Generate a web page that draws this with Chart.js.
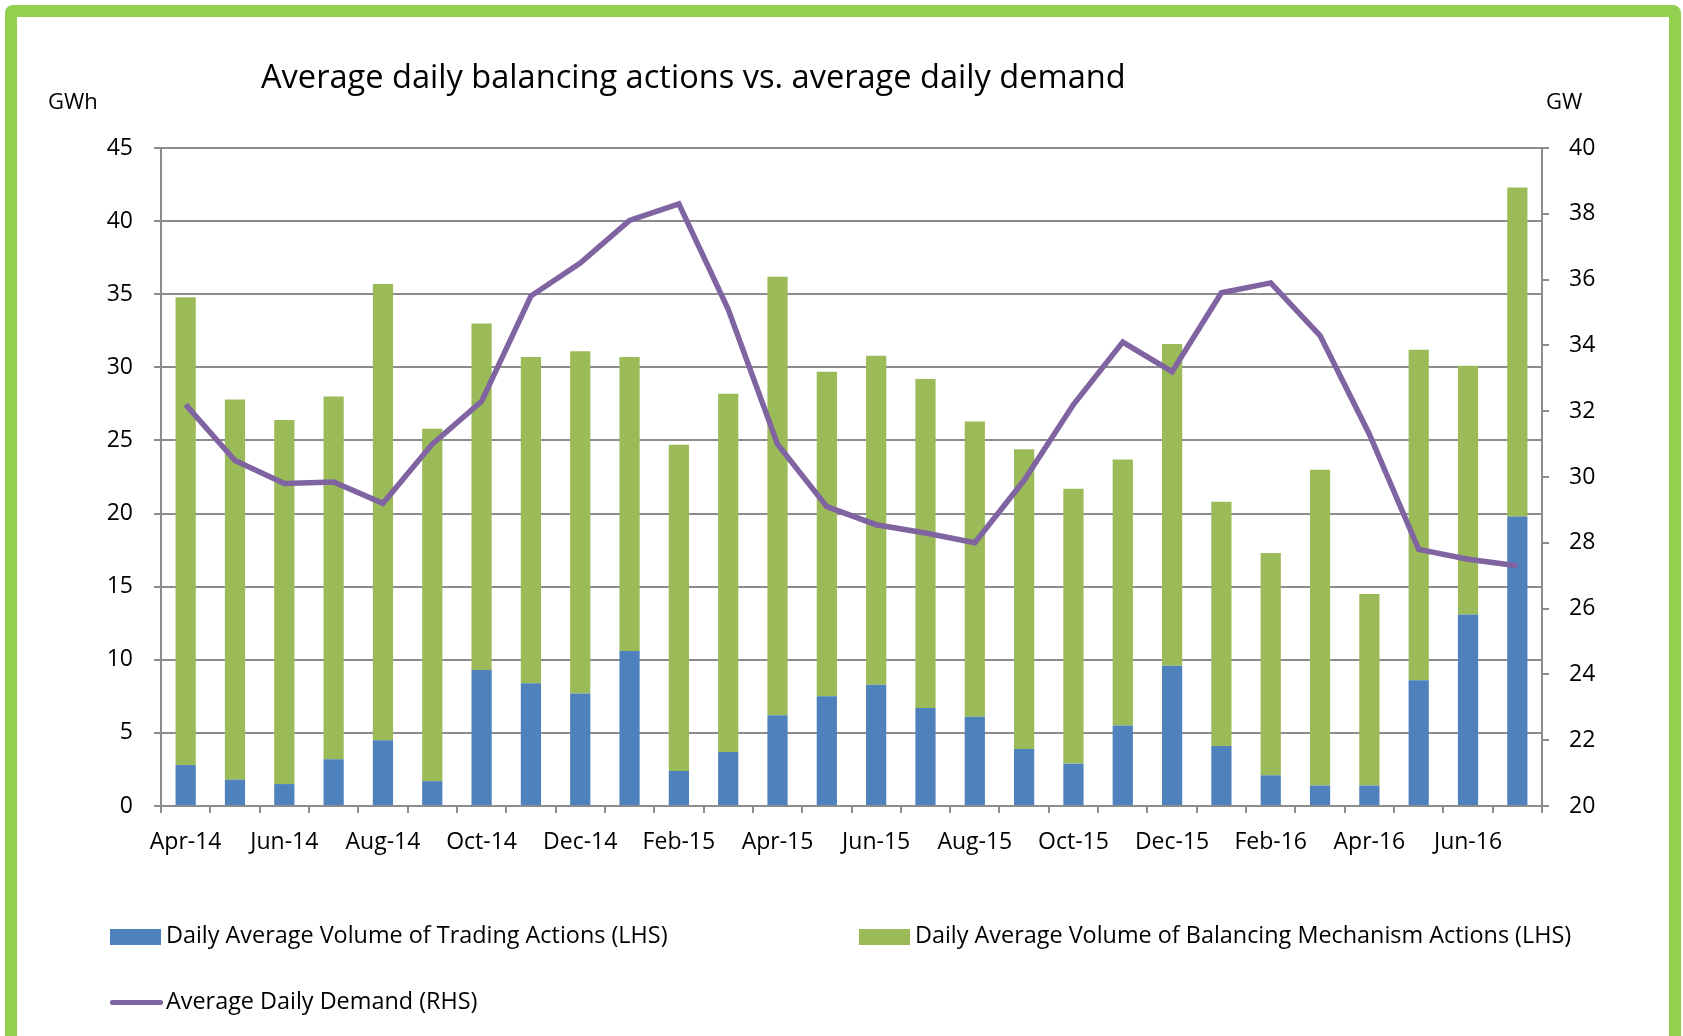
<!DOCTYPE html>
<html>
<head>
<meta charset="utf-8">
<script src="https://cdn.jsdelivr.net/npm/chart.js@4.4.1/dist/chart.umd.min.js"></script>
<style>
  html, body { margin: 0; padding: 0; background: #fff; overflow: hidden; }
  body { width: 1683px; height: 1036px; position: relative; font-family: "Open Sans", sans-serif; color: #000; }
  .frame {
    position: absolute; left: 5px; top: 5px; width: 1652px; height: 1040px;
    border: 12px solid #92d050; border-radius: 8px;
  }
  #chart { position: absolute; left: 0; top: 0; }
  .txt { position: absolute; white-space: nowrap; line-height: 1; }
  .title { left: 261px; top: 60px; font-size: 32.6px; }
  .unit { top: 89px; font-size: 22px; }
  .legend { font-size: 23.4px; }
  .swatch { position: absolute; }
</style>
</head>
<body>
<div class="frame"></div>
<canvas id="chart" width="1683" height="1036"></canvas>

<div class="txt title">Average daily balancing actions vs. average daily demand</div>
<div class="txt unit" style="left:48px">GWh</div>
<div class="txt unit" style="left:1546px">GW</div>

<div class="swatch" style="left:110px; top:929px; width:51px; height:16px; background:#4f81bd"></div>
<div class="txt legend" style="left:166px; top:923px">Daily Average Volume of Trading Actions (LHS)</div>
<div class="swatch" style="left:859px; top:929px; width:51px; height:16px; background:#9bbb59"></div>
<div class="txt legend" style="left:915px; top:923px">Daily Average Volume of Balancing Mechanism Actions (LHS)</div>
<div class="swatch" style="left:110px; top:1000px; width:53px; height:5px; background:#8064a2; border-radius:2px"></div>
<div class="txt legend" style="left:166px; top:989px">Average Daily Demand (RHS)</div>

<script>
// months, Apr-14 .. Jul-16
const months = [
    'Apr-14', 'May-14', 'Jun-14', 'Jul-14', 'Aug-14', 'Sep-14', 'Oct-14', 'Nov-14', 'Dec-14',
    'Jan-15', 'Feb-15', 'Mar-15', 'Apr-15', 'May-15', 'Jun-15', 'Jul-15', 'Aug-15', 'Sep-15',
    'Oct-15', 'Nov-15', 'Dec-15', 'Jan-16', 'Feb-16', 'Mar-16', 'Apr-16', 'May-16', 'Jun-16', 'Jul-16'
];

// GWh per day, trading actions (blue)
const tradingActions = [
    2.8, 1.8, 1.5, 3.2, 4.5, 1.7, 9.3, 8.4, 7.7,
    10.6, 2.4, 3.7, 6.2, 7.5, 8.3, 6.7, 6.1, 3.9,
    2.9, 5.5, 9.6, 4.1, 2.1, 1.4, 1.4, 8.6, 13.1, 19.8
];

// total bar height (trading + BM), GWh per day
const totalActions = [
    34.8, 27.8, 26.4, 28.0, 35.7, 25.8, 33.0, 30.7, 31.1,
    30.7, 24.7, 28.2, 36.2, 29.7, 30.8, 29.2, 26.3, 24.4,
    21.7, 23.7, 31.6, 20.8, 17.3, 23.0, 14.5, 31.2, 30.1, 42.3
];

// BM actions (green) = what sits on top of the blue part
const bmActions = totalActions.map((t, i) => +(t - tradingActions[i]).toFixed(1));

// GW, right hand axis
const avgDemand = [
    32.2, 30.5, 29.8, 29.85, 29.2, 31.0, 32.3, 35.5, 36.5,
    37.8, 38.3, 35.1, 31.0, 29.1, 28.55, 28.3, 28.0, 29.9,
    32.2, 34.1, 33.2, 35.6, 35.9, 34.3, 31.3, 27.8, 27.5, 27.3
];

const gridGrey = '#8c8c8c';
const tickFont = { family: 'Open Sans', size: 23 };

new Chart(document.getElementById('chart'), {
    type: 'bar',
    data: {
        labels: months,
        datasets: [
            {
                type: 'line',
                label: 'Average Daily Demand (RHS)',
                data: avgDemand,
                yAxisID: 'y1',
                borderColor: '#8064a2',
                borderWidth: 5.5,
                pointRadius: 0,
                tension: 0,
                order: 0
            },
            {
                label: 'Daily Average Volume of Trading Actions (LHS)',
                data: tradingActions,
                backgroundColor: '#4f81bd',
                yAxisID: 'y',
                stack: 'vol',
                order: 1
            },
            {
                label: 'Daily Average Volume of Balancing Mechanism Actions (LHS)',
                data: bmActions,
                backgroundColor: '#9bbb59',
                yAxisID: 'y',
                stack: 'vol',
                order: 1
            }
        ]
    },
    options: {
        responsive: false,
        animation: false,
        barPercentage: 0.41,
        categoryPercentage: 1,
        layout: { padding: { top: 148, bottom: 170, left: 0, right: 0 } },
        plugins: { legend: { display: false }, tooltip: { enabled: false } },
        scales: {
            x: {
                stacked: true,
                afterFit: s => { s.height = 60; },
                grid: { drawOnChartArea: false, drawTicks: true, tickLength: 7, color: gridGrey, lineWidth: 2 },
                border: { color: gridGrey, width: 2 },
                ticks: {
                    autoSkip: false, maxRotation: 0, padding: 16,
                    color: '#000', font: tickFont,
                    callback: (v, i) => (i % 2 === 0 ? months[i] : '')
                }
            },
            y: {
                position: 'left',
                stacked: true,
                min: 0, max: 45,
                afterFit: s => { s.width = 161; },
                grid: { color: gridGrey, lineWidth: 2, tickLength: 7 },
                border: { color: gridGrey, width: 2 },
                ticks: { stepSize: 5, padding: 21, color: '#000', font: tickFont }
            },
            y1: {
                position: 'right',
                min: 20, max: 40,
                afterFit: s => { s.width = 141; },
                grid: { drawOnChartArea: false, color: gridGrey, lineWidth: 2, tickLength: 7 },
                border: { color: gridGrey, width: 2 },
                ticks: { stepSize: 2, padding: 20, color: '#000', font: tickFont }
            }
        }
    }
});
</script>
</body>
</html>
